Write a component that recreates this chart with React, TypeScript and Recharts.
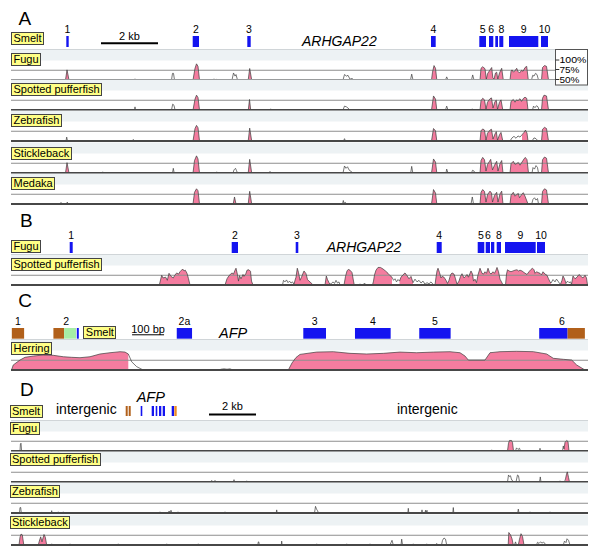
import React from "react"
import {
  ComposedChart,
  Area,
  Line,
  XAxis,
  YAxis,
  ReferenceArea,
  ReferenceLine,
  Label,
} from "recharts"

const PINK = "#f47c9f"
const BLUE = "#1414f0"
const BROWN = "#b1601b"
const GREEN = "#a6eda6"
const ORANGE = "#ec8a24"
const FONT = "'Liberation Sans', Arial, Helvetica, sans-serif"

// plot window, sequence position in px-sized steps
const SPAN = 577

type Seg = { fill: boolean; pts: number[] }
// P = conserved (pink) stretch, O = outline only. pts are pos,val pairs
const P = (...pts: number[]): Seg => ({ fill: true, pts })
const O = (...pts: number[]): Seg => ({ fill: false, pts })

// ---- panel A : ARHGAP22, smelt as base ----
const exonsA: [number, number, string][] = [
  [55.3, 57.7, "1"], [181.7, 188, "2"], [236.3, 239.7, "3"], [420, 424.7, "4"],
  [468.3, 475, "5"], [478, 482.3, "6"], [484.3, 487, ""], [488.3, 492.3, "8"],
  [498, 527.3, "9"], [530, 537, "10"],
]

const fuguA: Seg[] = [
  O(28.5, 50, 29, 52, 29.5, 50),
  P(54.5, 50, 56, 76, 58, 50),
  O(91.5, 50, 92, 52, 92.5, 50),
  O(123.5, 50, 124, 53, 124.5, 50),
  O(160.5, 50, 161.5, 67, 162.5, 67, 163.5, 50),
  P(182, 50, 184, 80, 185.5, 91.5, 187, 85, 188.5, 50),
  O(202, 50, 203, 53, 204, 50, 206, 52, 207, 50),
  O(221, 50, 222.5, 68, 224, 60, 225, 64, 226.5, 50),
  P(237.2, 50, 238.7, 79.5, 240.7, 50),
  O(332, 50, 333.5, 64, 335.5, 60, 337, 62, 339, 52, 341, 54, 343, 50),
  O(399.5, 50, 400.7, 65, 402, 50),
  P(420.5, 50, 421.5, 70, 423, 87, 424.5, 80, 425.8, 50),
  O(434.5, 50, 435.7, 58, 437, 50),
  O(460.5, 50, 461.7, 63, 463, 50),
  P(469, 50, 470, 80, 471.7, 84, 474, 79, 475.3, 52, 476.5, 66, 478.5, 74, 480.7, 82, 481.8, 56, 483, 52, 484.5, 68, 485.7, 70, 486.8, 52, 488.5, 68, 490.7, 80, 492.3, 50),
  P(499, 50, 500, 72, 501, 76, 502.5, 70, 504, 74, 505.7, 80, 507, 72, 508.5, 68, 510.7, 75, 512, 72, 514, 82, 515.7, 85, 517.3, 50),
  O(520.5, 50, 521.7, 62, 523, 60, 524.5, 67, 526, 64, 527.5, 50),
  P(530.5, 50, 531.5, 82, 533.5, 87, 535.5, 85, 537.5, 50),
]

const spottedA: Seg[] = [
  O(123.5, 50, 124, 58, 124.5, 50),
  O(160.5, 50, 161.7, 65, 163, 62, 164, 50),
  P(182, 50, 184, 78, 185.5, 88, 187, 82, 188.5, 50),
  O(202, 50, 202.3, 52, 202.6, 50),
  P(237.3, 50, 238.5, 77, 239.7, 50),
  O(259.5, 50, 259.7, 53, 260, 50),
  O(332, 50, 333.5, 60, 335.5, 58, 337, 55, 339, 50),
  O(402, 50, 402.3, 52, 402.6, 50),
  P(420.5, 50, 422.5, 86, 424.5, 78, 425.8, 50),
  O(434.5, 50, 435.7, 60, 437, 50),
  O(460, 50, 460.7, 52, 462, 52, 462.5, 50),
  P(469, 50, 470, 74, 471.7, 80, 473.5, 76, 475, 52, 476.5, 70, 479, 79, 480.5, 81, 482, 55, 484, 72, 485.3, 75, 486.5, 52, 488.5, 70, 490, 76, 491.8, 50),
  P(499, 50, 500, 72, 502.3, 77, 504, 70, 505.5, 76, 507, 74, 509, 79, 510.5, 72, 512.5, 80, 514, 83, 515.7, 80, 517, 50),
  O(521.5, 50, 522.5, 60, 524, 56, 525.5, 61, 527, 58, 528, 50),
  P(530.5, 50, 531.5, 80, 533, 88, 535.5, 86, 537.5, 50),
]

const zebrafishA: Seg[] = [
  O(55, 50, 55.7, 60, 56.5, 50),
  O(122, 50, 122.3, 54, 122.7, 50),
  P(182, 50, 184, 82, 185.5, 90, 187, 84, 188.5, 50),
  P(237.2, 50, 238.7, 83, 240.7, 50),
  O(332.5, 50, 333.5, 56, 334.5, 50),
  P(420.5, 50, 422.5, 82, 424.5, 76, 425.8, 50),
  P(469, 50, 470, 76, 471.7, 81, 473.5, 78, 475, 52, 476.5, 70, 479, 78, 480.5, 80, 482, 55, 484, 68, 485.3, 74, 486.5, 52, 488.5, 66, 490, 72, 491.8, 50),
  O(499, 50, 501, 58, 503, 62, 505, 57, 507, 63, 509, 60, 511, 66),
  P(511, 66, 513, 72, 514.5, 78, 516, 70, 517, 50),
  O(521, 50, 523, 58, 525, 56, 527, 50),
  P(530.5, 50, 531.5, 80, 533.5, 85, 535.5, 82, 537.5, 50),
]

const sticklebackA: Seg[] = [
  P(54.5, 50, 56, 76.5, 58, 50),
  O(91.2, 50, 91.7, 53, 92.2, 50),
  O(123.5, 50, 124, 52, 124.5, 50),
  O(161.5, 50, 162.3, 62, 163.2, 50),
  P(182, 50, 183.5, 82, 185.5, 94, 187, 86, 188.5, 50),
  O(205.2, 50, 205.7, 53, 206.2, 50),
  O(222, 50, 223, 58, 224.5, 62, 225.5, 56, 226.5, 50),
  P(237.2, 50, 238.7, 85, 240.7, 50),
  O(258.5, 50, 259, 54, 259.5, 50),
  O(332, 50, 333.5, 68, 335, 62, 336.5, 66, 338, 58, 340, 54, 342, 50),
  O(399.7, 50, 400.7, 67, 401.8, 50),
  P(420.5, 50, 422.5, 86, 424.5, 78, 425.8, 50),
  O(435, 50, 435.7, 60, 437, 50),
  O(460.5, 50, 461.5, 57, 463, 55, 464, 50),
  P(469, 50, 470, 82, 471.7, 90, 473.5, 84, 475, 55, 476.5, 72, 478.5, 80, 479.7, 85, 481.5, 58, 483.5, 70, 485.7, 80, 487, 55, 489, 74, 490.7, 82, 492, 50),
  P(499, 50, 500, 74, 502.3, 80, 504, 72, 505.5, 74, 507.3, 77, 509, 70, 511, 78, 513, 86, 514.3, 90, 516, 84, 517.5, 50),
  O(521, 50, 522, 64, 523.5, 60, 525, 69, 526.5, 64, 527.5, 50),
  P(530.5, 50, 531.5, 84, 533.5, 91, 535.5, 88, 537.5, 50),
]

const medakaA: Seg[] = [
  O(49, 50, 50, 54, 51, 50),
  O(55.5, 50, 56.3, 55, 57, 50),
  P(182, 50, 183.5, 80, 185.5, 89, 187, 84, 188.5, 50),
  P(222.2, 50, 223.5, 68, 225, 50),
  P(237.2, 50, 238.7, 82.5, 240.7, 50),
  O(331.5, 50, 332.3, 59, 333, 52, 334.5, 54, 335.5, 50),
  P(420.5, 50, 422.5, 87, 424.5, 78, 425.8, 50),
  O(460, 50, 461.3, 68, 462.5, 50),
  P(469, 50, 470, 80, 471.7, 87, 473.5, 82, 475, 55, 476.5, 74, 479, 83, 480.5, 78, 481.5, 55, 483.5, 72, 485.7, 80, 487, 55, 489, 76, 490.7, 83, 492, 50),
  P(499, 50, 500, 72, 502.3, 80, 504, 70, 505.5, 74, 507.3, 77, 508.5, 66, 510.5, 74, 512.3, 79, 514, 70, 515.5, 60, 517, 50),
  O(520.7, 50, 522, 62, 523.5, 66, 525, 60, 526.5, 64, 527.5, 50),
  P(530.5, 50, 531.5, 82, 533.5, 89, 535.5, 86, 537.5, 50),
]

// ---- panel B : ARHGAP22, fugu as base ----
const exonsB: [number, number, string][] = [
  [58.7, 61.7, "1"], [220.7, 227, "2"], [284.7, 287.3, "3"], [425.7, 430.7, "4"],
  [466.7, 473.3, "5"], [474.7, 479, "6"], [480, 483.3, ""], [485.7, 490, "8"],
  [494, 524.7, "9"], [526, 534, "10"],
]

const spottedB: Seg[] = [
  P(148.3, 50, 150.7, 75, 152, 68, 154.7, 70, 156.3, 62, 158, 80, 160, 72, 162.3, 68, 163.5, 74, 165.7, 81, 167.5, 78, 169, 84, 171.7, 91, 173, 86, 174.3, 88, 176, 80, 177.5, 66, 179, 50),
  P(214, 50, 216, 66, 218, 74, 221, 81, 222.5, 78, 224, 88, 225, 93, 226.5, 76, 227.5, 60, 228.5, 74, 230, 66, 232, 77, 233, 72, 235, 80, 236, 88, 238, 89, 239.5, 85, 240.5, 60, 242, 50),
  O(271.5, 50, 272.5, 62, 274, 58, 275.5, 63, 277, 56, 278.5, 60, 280, 55, 281.5, 58, 283, 52),
  P(283, 52, 284, 62, 285, 70, 286.3, 93, 287.5, 82, 289, 62, 290.5, 70, 292, 80, 293, 86, 295, 79, 296.5, 64, 298, 60, 301.5, 52, 302, 50),
  P(314, 50, 315.3, 73, 316.5, 64, 318, 56, 319, 52),
  O(319, 52, 320.5, 54, 322, 58, 323.5, 54, 325, 62, 326.5, 55, 328, 58, 329, 50),
  P(333, 50, 334.5, 72, 336, 86, 337.3, 90, 339, 88, 341, 82, 342.5, 60, 343.3, 50),
  O(348, 50, 349, 53, 350, 50, 352, 50, 353.5, 55, 355, 50),
  P(361.5, 50, 362.5, 60, 363.5, 76, 365, 88, 367, 95, 369.5, 95, 372, 91, 374.5, 86, 377, 80, 379, 74, 381, 70),
  O(381, 70, 382.5, 62, 384, 66, 385.5, 58, 387, 64, 388.5, 60),
  P(388.5, 60, 390, 70, 392, 76, 394, 81, 396, 74, 398, 66, 400, 72, 401.5, 60, 402, 56),
  O(402, 56, 404, 65, 406, 58, 408, 62, 410, 55, 412, 60, 414, 52, 416, 56, 418, 53, 420, 58, 422, 52, 423.5, 50),
  P(424, 50, 425, 70, 426, 86, 427, 93, 428.5, 82, 430, 68, 431, 72, 433, 70, 435, 62, 436.5, 54, 438, 62, 439.5, 76, 441, 81, 443, 78, 444.5, 66, 446, 52, 448, 60, 449.5, 72, 451, 79, 453, 68, 454.5, 72, 456, 77, 457.5, 70, 459, 80, 460, 86, 461.5, 78, 462.5, 60, 464, 65, 465.5, 56, 467, 76, 469, 93, 471, 80, 472.5, 78, 474, 84, 475.5, 80, 477, 93, 478.5, 82, 480, 78, 482, 84, 483.5, 80, 485, 88, 486, 95, 487.5, 84, 489, 65, 490.5, 58, 492, 50),
  P(494.5, 50, 495.5, 78, 496.5, 89, 498, 86, 500, 84, 502, 86, 504, 88, 506, 89, 507.5, 86, 509, 88, 511, 86, 513, 82, 516, 77, 518, 84, 520, 90, 521.5, 93, 523, 89, 524, 80, 525.5, 84, 527, 82, 529, 80, 530.5, 76, 532, 84, 534, 78, 536, 75, 537.5, 66, 539, 58, 540, 55),
  O(540, 55, 542, 64, 544, 58, 545.5, 65, 547, 60, 548.5, 54, 549.5, 52),
  P(549.5, 52, 551, 62, 552, 73, 553.5, 66, 555, 54),
  O(555, 54, 556.5, 60, 558, 56, 559.5, 58, 560.5, 52),
  P(560.5, 52, 562, 73, 564, 66, 566, 70, 568, 77, 570, 72, 572, 68, 574, 75, 575.5, 68, 576.5, 50),
]

// ---- panel C : AFP, smelt vs herring ----
const boxesC: [number, number, string][] = [
  [0.7, 13, BROWN], [42.3, 53, BROWN], [53, 65, GREEN], [65.7, 67.7, BLUE],
  [165.7, 181, BLUE], [292.3, 315, BLUE], [344, 379.7, BLUE], [408.3, 439.7, BLUE],
  [528.3, 556.7, BLUE], [556.7, 574, BROWN],
]
const namesC: [number, number, string][] = [
  [0.7, 13, "1"], [42.3, 67.7, "2"], [165.7, 181, "2a"], [292.3, 315, "3"],
  [344, 379.7, "4"], [408.3, 439.7, "5"], [528.3, 574, "6"],
]

const herringC: Seg[] = [
  P(0.5, 50, 2.3, 63, 9, 75.6, 14, 82.5, 22.3, 85.8, 32.3, 88.4, 42.3, 87.6, 52.3, 84, 60.7, 82.5, 69, 81.5, 79, 84, 89, 91, 99, 94.3, 109, 96.9, 114, 96, 117.3, 91),
  O(117.3, 91, 120.7, 71, 125.7, 58.5, 130.7, 52, 133, 50),
  O(190, 50, 190.7, 52, 191.4, 50),
  O(208, 50, 210, 52, 213, 53, 216, 52, 219, 53, 222, 50),
  P(277.3, 50, 281, 68, 285, 82, 289, 90, 305.7, 96, 322.3, 96.9, 339, 92.7, 355.7, 91, 372.3, 92.7, 389, 96, 405.7, 94.3, 422.3, 96, 439, 96.9, 449, 94.3, 454, 85.8, 457.3, 75.6, 474, 75.6, 479, 94.3, 489, 97, 505.7, 97.9, 522.3, 97, 535.7, 91, 542.3, 80, 552.3, 77.4, 560.7, 75.6, 565.7, 62.8, 574, 50),
]

// ---- panel D : AFP locus and intergenic flanks ----
const boxesD: [number, number, string][] = [
  [114.7, 116.7, BROWN], [117.7, 119.7, BROWN], [129.7, 131.3, BLUE],
  [140.7, 143, BLUE], [144.7, 146.3, BLUE], [148, 150.3, BLUE], [151.7, 154, BLUE],
  [160.7, 163, BLUE], [163.3, 165.7, ORANGE],
]

const fuguD: Seg[] = [
  O(9, 50, 9.4, 68, 10, 70, 10.6, 50),
  O(480.3, 50, 480.7, 53, 481.1, 50),
  P(496.5, 50, 497.5, 70, 498.5, 77, 500.5, 77, 501.5, 72, 502.5, 50),
  O(504.5, 50, 505.5, 58, 507, 54, 508.5, 57, 509.5, 50),
  O(528.5, 50, 529, 57, 529.5, 50),
  O(551.5, 50, 552.3, 63, 553, 55),
  P(553, 55, 554, 72, 555.7, 77, 557, 74, 558, 50),
]

const spottedD: Seg[] = [
  O(200.5, 50, 200.7, 54, 201, 50),
  O(203.5, 50, 204, 54, 204.5, 50),
  O(222.5, 50, 223, 56, 223.5, 50),
  O(235.5, 50, 235.7, 53, 236, 50),
  O(496.5, 50, 497.5, 68, 498.5, 64, 499.5, 66, 500.5, 56, 501, 56, 502, 50),
  O(505, 50, 506.5, 68, 507.5, 66, 508.5, 50),
  O(528.5, 50, 529.3, 63, 530, 50),
  O(548.7, 50, 549, 53, 549.3, 50),
  O(553.5, 50, 554.5, 58),
  P(554.5, 58, 555.5, 70, 556.3, 76, 557.5, 62, 558.5, 50),
  O(564.8, 50, 565, 52, 565.3, 50),
]

const zebrafishD: Seg[] = [
  O(8.5, 50, 9, 64, 9.7, 64, 10.3, 50),
  O(20.5, 50, 20.7, 52, 21, 50),
  O(40.2, 50, 40.7, 56, 41.2, 50),
  O(47, 50, 47.3, 53, 47.6, 50),
  O(52, 50, 52.3, 53, 52.6, 50),
  O(122, 50, 122.3, 52, 122.6, 50),
  O(148.7, 50, 149, 53, 149.3, 50),
  O(157, 50, 158, 55, 159, 52, 160, 57, 161, 50),
  O(166.7, 50, 167, 53, 167.3, 50),
  O(181.7, 50, 182, 52, 182.3, 50),
  O(196.7, 50, 197, 52, 197.3, 50),
  O(213.7, 50, 214, 53, 214.3, 50),
  O(265.2, 50, 265.7, 58, 266.2, 50),
  O(276.7, 50, 277, 52, 277.3, 50),
  O(291.4, 50, 291.7, 52, 292, 50),
  O(303.5, 50, 304.5, 67, 305.5, 60, 306.5, 56, 307.5, 50),
  O(396.8, 50, 397.3, 62, 397.8, 50),
  O(410.5, 50, 411, 58, 411.5, 50),
  O(414, 50, 414.5, 57, 415, 52, 416, 57, 416.5, 50),
  O(441.8, 50, 442.3, 64, 442.8, 50),
  O(506.7, 50, 507.3, 60, 508, 50),
  O(518.7, 50, 519, 53, 519.3, 50),
  O(538.7, 50, 539, 53, 539.3, 50),
]

const sticklebackD: Seg[] = [
  P(8, 50, 9, 70, 10, 78, 11.3, 76, 12.8, 50),
  P(27.3, 50, 28.3, 60, 29.7, 71, 31, 58, 32, 68, 33, 77, 34.3, 70, 35.7, 50),
  O(40.4, 50, 40.7, 53, 41, 50),
  O(58.7, 50, 59, 53, 59.3, 50),
  O(107, 50, 107.3, 53, 107.6, 50),
  O(155.4, 50, 155.7, 53, 156, 50),
  O(187, 50, 187.3, 53, 187.6, 50),
  O(246.8, 50, 247.3, 58, 247.8, 58, 248.3, 50),
  O(270.3, 50, 270.7, 60, 271.1, 50),
  O(305.4, 50, 305.7, 53, 306, 50),
  O(335.4, 50, 335.7, 53, 336, 50),
  O(358.7, 50, 359, 53, 359.3, 50),
  O(379, 50, 380, 56, 381, 62, 382.3, 50),
  O(390, 50, 390.7, 65, 391.5, 50),
  O(402, 50, 402.3, 53, 402.6, 50),
  O(415.4, 50, 415.7, 53, 416, 50),
  O(425.4, 50, 425.7, 54, 426, 50),
  O(430.5, 50, 431.5, 62, 433, 68, 434.5, 65, 435.7, 50),
  P(497.2, 50, 497.8, 82, 499.5, 76, 501, 66, 502.3, 50),
  O(503.5, 50, 504.5, 58, 505.5, 50),
  P(507.3, 50, 508.5, 65, 510, 79, 511.5, 72, 513, 50),
  O(525.5, 50, 526.5, 57, 528, 54, 529.5, 58, 531, 55, 532.5, 57, 534, 54, 535.5, 50),
  O(552.3, 50, 553.5, 60, 555, 56, 556, 66, 557.5, 62, 559, 50),
]

function toRows(segs: Seg[]) {
  const rows: { pos: number; v: number; f: number }[] = []
  segs.forEach((s) => {
    for (let i = 0; i < s.pts.length; i += 2) {
      rows.push({ pos: s.pts[i], v: s.pts[i + 1], f: s.fill ? s.pts[i + 1] : 50 })
    }
  })
  return rows
}

function Tag({ text, left, top }: { text: string; left: number; top: number }) {
  return (
    <div
      style={{
        position: "absolute",
        left,
        top,
        background: "#ffff86",
        border: "1px solid #444",
        fontSize: 11,
        lineHeight: "11px",
        padding: "0 1.5px",
        whiteSpace: "nowrap",
        color: "#000",
      }}
    >
      {text}
    </div>
  )
}

const YMAX = 129.5

function Track({
  baseline,
  segs,
  name,
  topLine,
  tagLeft = 0,
  tagTop = 4.5,
}: {
  baseline: number
  segs: Seg[]
  name: string
  topLine?: boolean
  tagLeft?: number
  tagTop?: number
}) {
  const data = toRows(segs)
  return (
    <div style={{ position: "absolute", left: 11, top: baseline - 31, width: SPAN, height: 32 }}>
      <ComposedChart width={SPAN} height={32} data={data} margin={{ top: 0, right: 0, bottom: 1, left: 0 }}>
        <XAxis dataKey="pos" type="number" domain={[0, SPAN]} hide allowDataOverflow />
        <YAxis type="number" domain={[50, YMAX]} hide allowDataOverflow />
        <ReferenceArea y1={100} y2={128.2} fill="#edf2f4" fillOpacity={1} stroke="none" />
        {topLine && <ReferenceLine y={YMAX} stroke="#a9b2b7" strokeWidth={1.2} />}
        <ReferenceLine y={75} stroke="#8e8e8e" strokeWidth={1} />
        <Area
          dataKey="f"
          type="linear"
          baseValue={50}
          fill={PINK}
          fillOpacity={1}
          stroke="none"
          isAnimationActive={false}
        />
        <Line
          dataKey="v"
          type="linear"
          stroke="#3c3c3c"
          strokeWidth={0.7}
          dot={false}
          activeDot={false}
          isAnimationActive={false}
        />
        <ReferenceLine y={50} stroke="#474747" strokeWidth={2} />
      </ComposedChart>
      <Tag text={name} left={tagLeft} top={tagTop} />
    </div>
  )
}

function GeneRow({
  boxTop,
  boxH,
  boxes,
  names,
  bar,
}: {
  boxTop: number
  boxH: number
  boxes: [number, number, string][]
  names: [number, number, string][]
  bar?: { x1: number; x2: number; y: number; w: number; text: string; off: number }
}) {
  const H = 16 + boxH + 2
  return (
    <div style={{ position: "absolute", left: 11, top: boxTop - 16, width: SPAN, height: H }}>
      <ComposedChart
        width={SPAN}
        height={H}
        data={boxes.map((b) => ({ x: b[0] }))}
        margin={{ top: 0, right: 0, bottom: 0, left: 0 }}
      >
        <XAxis dataKey="x" type="number" domain={[0, SPAN]} hide allowDataOverflow />
        <YAxis type="number" domain={[0, H]} hide allowDataOverflow />
        {boxes.map(([x1, x2, c], i) => (
          <ReferenceArea key={i} x1={x1} x2={x2} y1={2} y2={2 + boxH} fill={c} fillOpacity={1} stroke="none" />
        ))}
        {names.map(([x1, x2, n], i) => (
          <ReferenceArea key={"n" + i} x1={x1} x2={x2} y1={2} y2={2 + boxH} fill="none" stroke="none">
            <Label value={n} position="top" offset={3} fontSize={10.5} fill="#000" stroke="none" />
          </ReferenceArea>
        ))}
        {bar && (
          <ReferenceLine
            segment={[
              { x: bar.x1, y: bar.y },
              { x: bar.x2, y: bar.y },
            ]}
            stroke="#000"
            strokeWidth={bar.w}
          >
            <Label value={bar.text} position="top" offset={bar.off} fontSize={11} fill="#000" stroke="none" />
          </ReferenceLine>
        )}
      </ComposedChart>
    </div>
  )
}

export default function App() {
  const txt = { fontFamily: FONT, fill: "#000" }
  return (
    <div
      style={{
        position: "absolute",
        left: 0,
        top: 0,
        width: 600,
        height: 554,
        background: "#fff",
        fontFamily: FONT,
        overflow: "hidden",
      }}
    >
      {/* A */}
      <GeneRow
        boxTop={36}
        boxH={11}
        boxes={exonsA.map(([a, b]) => [a, b, BLUE] as [number, number, string])}
        names={exonsA}
        bar={{ x1: 90, x2: 147, y: 5.7, w: 2, text: "2 kb", off: 3 }}
      />
      <Tag text="Smelt" left={11} top={32.3} />
      <Track baseline={79.5} segs={fuguA} name="Fugu" topLine />
      <Track baseline={110} segs={spottedA} name="Spotted pufferfish" tagTop={4} />
      <Track baseline={141} segs={zebrafishA} name="Zebrafish" tagTop={4.3} />
      <Track baseline={173} segs={sticklebackA} name="Stickleback" tagTop={5} />
      <Track baseline={203.7} segs={medakaA} name="Medaka" tagTop={4.7} />

      {/* B */}
      <GeneRow
        boxTop={242.3}
        boxH={11}
        boxes={exonsB.map(([a, b]) => [a, b, BLUE] as [number, number, string])}
        names={exonsB}
      />
      <Tag text="Fugu" left={11} top={240} />
      <Track baseline={285} segs={spottedB} name="Spotted pufferfish" topLine tagTop={4.3} />

      {/* C */}
      <GeneRow
        boxTop={327.7}
        boxH={10.7}
        boxes={boxesC}
        names={namesC}
        bar={{ x1: 121, x2: 153, y: 5.9, w: 1, text: "100 bp", off: 1.5 }}
      />
      <Tag text="Smelt" left={83.3} top={326} />
      <Track baseline={370} segs={herringC} name="Herring" topLine tagTop={3} />

      {/* D */}
      <GeneRow
        boxTop={405.7}
        boxH={10}
        boxes={boxesD}
        names={[]}
        bar={{ x1: 198, x2: 245, y: 3.4, w: 2, text: "2 kb", off: 4.3 }}
      />
      <Tag text="Smelt" left={9.5} top={405} />
      <Track baseline={451.3} segs={fuguD} name="Fugu" topLine tagLeft={-1.5} tagTop={2} />
      <Track baseline={482.3} segs={spottedD} name="Spotted pufferfish" tagLeft={-1.5} tagTop={2} />
      <Track baseline={513.3} segs={zebrafishD} name="Zebrafish" tagLeft={-1.5} tagTop={2.7} />
      <Track baseline={544.7} segs={sticklebackD} name="Stickleback" tagLeft={-1.5} tagTop={2.3} />

      <svg width={600} height={554} style={{ position: "absolute", left: 0, top: 0, pointerEvents: "none" }}>
        <text x={18.5} y={25} fontSize={19} {...txt}>A</text>
        <text x={20} y={227.3} fontSize={19} {...txt}>B</text>
        <text x={18.3} y={307.3} fontSize={19} {...txt}>C</text>
        <text x={20} y={395.7} fontSize={19} {...txt}>D</text>
        <text x={302} y={45.7} fontSize={14} fontStyle="italic" {...txt}>ARHGAP22</text>
        <text x={326.7} y={252} fontSize={14} fontStyle="italic" {...txt}>ARHGAP22</text>
        <text x={219} y={338.3} fontSize={14.5} fontStyle="italic" {...txt}>AFP</text>
        <text x={136.7} y={401.7} fontSize={14.5} fontStyle="italic" {...txt}>AFP</text>
        <text x={56} y={414.3} fontSize={14} {...txt}>intergenic</text>
        <text x={397} y={414.3} fontSize={14} {...txt}>intergenic</text>
        <g>
          <rect x={555.5} y={49.5} width={32} height={35.5} fill="#fff" stroke="#555" strokeWidth={1} />
          {[60, 69.5, 79.5].map((y) => (
            <line key={y} x1={555.5} x2={559.3} y1={y} y2={y} stroke="#333" strokeWidth={1} />
          ))}
          <text x={559.5} y={63.2} fontSize={8.6} textLength={27} lengthAdjust="spacingAndGlyphs" {...txt}>100%</text>
          <text x={559.5} y={72.7} fontSize={8.6} textLength={20} lengthAdjust="spacingAndGlyphs" {...txt}>75%</text>
          <text x={559.5} y={82.6} fontSize={8.6} textLength={20} lengthAdjust="spacingAndGlyphs" {...txt}>50%</text>
        </g>
      </svg>
    </div>
  )
}
